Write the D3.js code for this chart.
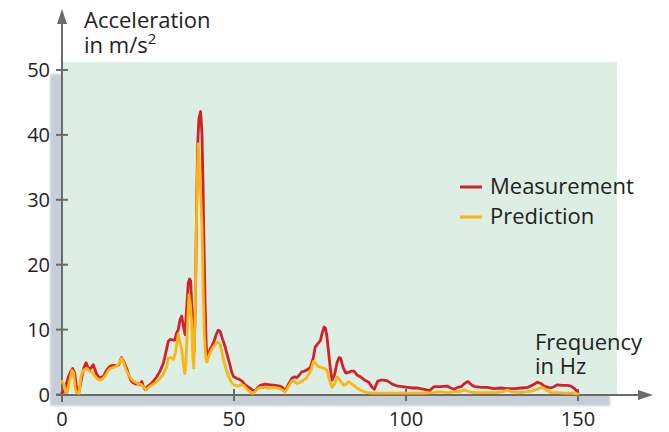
<!DOCTYPE html>
<html><head><meta charset="utf-8">
<script src="https://cdn.jsdelivr.net/npm/d3@7"></script>
<style>
html,body{margin:0;padding:0;background:#fff;}
svg{display:block;font-family:"Open Sans","Noto Sans",sans-serif;}
</style></head>
<body><svg id="c" width="669" height="432"></svg>
<script>
const measFreq = [0,0.6,1.2,1.8,2.5,3.1,3.7,4.1,4.5,5.0,5.8,6.4,7.0,7.5,8.1,8.6,9.1,9.6,10.1,10.8,11.5,12.1,12.8,13.5,14.2,15.0,15.7,16.5,17.3,18.0,18.8,19.4,20.0,20.7,21.5,22.1,22.7,23.2,23.6,24.1,24.8,25.6,26.5,27.5,28.5,29.5,30.2,30.9,31.5,32.2,32.8,33.3,33.8,34.3,34.8,35.3,35.8,36.2,36.7,37.1,37.4,37.7,38.0,38.4,38.8,39.1,39.4,39.8,40.3,40.7,41.0,41.3,41.6,41.9,42.2,42.6,43.0,43.6,44.2,44.8,45.4,46.0,46.7,47.4,48.1,48.8,49.3,49.8,50.7,51.7,52.5,53.2,54.0,54.6,55.3,56.1,56.8,57.6,59,60.5,62,63.4,64.2,64.9,65.8,66.8,67.5,68.3,69,69.7,70.5,71.3,72.2,73.0,73.6,74.3,75.1,75.6,76.2,76.6,77.0,77.5,78.0,78.5,79.2,80.0,80.6,81.0,81.7,82.5,83.3,84.0,84.9,85.8,86.8,88.0,89.2,90.0,90.8,91.7,92.5,93.5,94.6,96.0,97.5,99.0,100.4,102,103.5,105.3,106.8,108.2,110,112,113,114,115,116,117,118,119,120,122,123.7,125.5,127.6,129.5,131.5,133.5,135.4,137,138.2,139.2,140.2,142,143,144,145.5,147,148,149,150];
const measValues = [0.3,0.5,1.5,2.6,3.5,4.0,3.3,1.5,0.6,0.5,2.8,4.2,4.9,4.2,3.9,4.2,4.6,3.8,3.1,2.6,2.7,2.8,3.6,4.1,4.4,4.5,4.4,4.6,5.7,5.0,4.0,3.0,2.2,1.8,1.6,1.7,1.5,2.0,1.3,0.8,1.2,1.5,2.0,2.7,3.6,4.9,6.5,8.2,8.5,8.4,8.4,9.5,10.0,11.5,12.1,10.5,9.2,13,17.2,17.8,17.5,14,10.5,6.5,15,28,38,42.5,43.6,40,32,22,14,8,5.4,6.0,6.9,7.5,8.2,9.2,9.9,9.7,8.5,7.4,6.0,4.6,3.5,2.8,2.5,2.3,2.0,1.5,1.2,1.0,0.7,0.5,1.0,1.4,1.6,1.5,1.4,1.3,1.0,0.6,1.5,2.5,2.7,2.6,3.0,3.5,3.6,3.8,4.2,5.5,7.3,7.8,8.3,9.4,10.4,10.2,9.0,6.5,4.0,2.2,3.0,5.0,5.7,5.6,4.2,3.3,3.4,3.6,3.6,3.0,2.7,2.2,1.9,1.2,0.8,2.0,2.2,2.2,2.1,1.6,1.3,1.2,1.1,1.0,1.0,0.8,0.6,1.2,1.2,1.3,1.0,0.8,1.1,1.2,1.7,2.0,1.5,1.2,1.1,1.1,0.9,1.0,0.9,0.9,1.0,1.1,1.5,1.9,1.7,1.3,1.0,1.2,1.5,1.4,1.4,1.3,0.9,0.3];

const predFreq = [0,0.6,1.0,1.6,2.2,2.9,3.4,3.8,4.2,5.0,5.5,6.1,6.7,7.3,8.0,8.6,9.3,10.1,11.0,11.8,12.6,13.3,14.0,15.0,16.0,16.7,17.3,18.0,18.8,19.5,20.3,21.1,22.0,23.1,23.8,24.5,25.2,26.0,27.2,28.4,29.3,30.4,30.9,31.6,32.4,33.0,33.8,34.3,34.8,35.3,35.7,36.0,36.5,36.9,37.3,37.7,38.0,38.3,38.7,39.0,39.3,39.6,39.9,40.3,40.7,41.0,41.4,41.8,42.1,42.7,43.5,44.2,45.0,45.6,46.0,46.5,46.9,47.6,48.4,49.1,49.8,50.5,51.3,52.1,52.8,53.5,54.3,55.0,55.7,56.4,57.2,58.5,60,61.5,63.4,64.2,64.9,65.8,66.8,67.5,68.3,69.2,70.2,71.0,71.6,72.3,73.1,73.6,74.5,75.3,76.2,77.0,77.6,78.5,79.3,80.0,80.8,81.9,82.6,83.3,84.3,85.8,87,88.7,90,95,100,105,108,110,112,114,116,117,118.5,120,123,126,128,129.5,131,133,135,137,138.5,139.7,140.8,142,144,146,148,150];
const predValues = [2.0,1.5,0.5,0.4,2.0,3.7,3.3,1.0,0.3,0.2,2.8,3.6,3.9,4.0,3.6,3.5,3.0,2.5,2.2,2.4,2.9,3.6,4.0,4.2,4.4,4.9,5.6,4.8,3.6,2.9,2.3,2.0,1.7,1.5,1.1,0.7,1.1,1.4,1.8,2.4,3.0,4.2,5.6,5.7,5.4,6.5,9.3,8.0,7.0,4.5,3.2,4.5,11,15.4,14,11.0,6,4.1,12,24,33,38.6,36,31,26,17,9,5.5,5.0,6.0,6.9,7.5,8.0,8.0,7.6,6.5,5.4,4.0,2.8,2.0,1.5,1.4,1.3,1.5,1.4,1.0,0.5,0.2,0.2,0.6,1.0,1.1,1.0,1.1,0.9,0.6,0.4,1.2,2.1,2.0,1.7,1.9,2.2,2.5,3.0,3.6,5.1,4.9,4.3,4.2,4.0,3.8,2.5,1.1,1.7,2.7,2.2,1.4,1.6,2.0,1.6,1.0,0.6,0.3,0.2,0.2,0.2,0.2,0.3,0.4,0.3,0.4,0.5,0.7,0.4,0.3,0.3,0.3,0.4,0.7,0.4,0.3,0.4,0.6,0.9,1.1,0.7,0.3,0.3,0.2,0.2,0.1];

const xTicks = [0,50,100,150];
const yTicks = [0,10,20,30,40,50];
const seriesNames = ["Measurement","Prediction"];
const seriesColors = ["#d42129","#fbb514"];

const svg = d3.select("#c");
const x = d3.scaleLinear().domain([0,150]).range([62,578]);
const y = d3.scaleLinear().domain([0,50]).range([394.5,70]);

const defs = svg.append("defs");
defs.append("filter").attr("id","blur").append("feGaussianBlur").attr("stdDeviation",1.2);

// shadow + plot background
svg.append("rect").attr("x",50).attr("y",74).attr("width",560).attr("height",332)
  .attr("fill","#c6ced7").attr("filter","url(#blur)");
svg.append("rect").attr("x",62).attr("y",62).attr("width",555).attr("height",333)
  .attr("fill","#ddeee4");

const axisColor = "#6b6b6b";
// y axis
svg.append("line").attr("x1",62).attr("x2",62).attr("y1",402).attr("y2",20)
  .attr("stroke",axisColor).attr("stroke-width",2);
svg.append("path").attr("d","M62,9 L67,24 L57,24 Z").attr("fill",axisColor);
// x axis
svg.append("line").attr("x1",56).attr("x2",642).attr("y1",395).attr("y2",395)
  .attr("stroke",axisColor).attr("stroke-width",2);
svg.append("path").attr("d","M653,395 L638,390 L638,400 Z").attr("fill",axisColor);

// ticks
svg.selectAll(".yt").data(yTicks).enter().append("line")
  .attr("x1",56).attr("x2",68).attr("y1",d=>y(d)).attr("y2",d=>y(d))
  .attr("stroke",axisColor).attr("stroke-width",2);
svg.selectAll(".xt").data(xTicks.slice(1)).enter().append("line")
  .attr("x1",d=>x(d)).attr("x2",d=>x(d)).attr("y1",389).attr("y2",401)
  .attr("stroke",axisColor).attr("stroke-width",2);

const txt = "#222222";
svg.selectAll(".yl").data(yTicks).enter().append("text")
  .attr("x",50).attr("y",d=>y(d)+7).attr("text-anchor","end")
  .attr("font-size",20).attr("fill",txt).text(d=>d);
svg.selectAll(".xl").data(xTicks).enter().append("text")
  .attr("x",d=>x(d)).attr("y",426).attr("text-anchor","middle")
  .attr("font-size",20).attr("fill",txt).text(d=>d);

// axis titles
svg.append("text").attr("x",84).attr("y",28).attr("font-size",22).attr("fill",txt).text("Acceleration");
const t2 = svg.append("text").attr("x",84).attr("y",53).attr("font-size",22).attr("fill",txt);
t2.append("tspan").text("in m/s");
t2.append("tspan").attr("font-size",15).attr("dy",-9).text("2");
svg.append("text").attr("x",535).attr("y",350).attr("font-size",22).attr("fill",txt).text("Frequency");
svg.append("text").attr("x",535).attr("y",374).attr("font-size",22).attr("fill",txt).text("in Hz");

// lines
const line = d3.line().x(d=>x(d[0])).y(d=>y(d[1])).curve(d3.curveLinear);
const meas = measFreq.map((f,i)=>[f,measValues[i]]);
const pred = predFreq.map((f,i)=>[f,predValues[i]]);
[meas,pred].forEach((s,i)=>{
  svg.append("path").datum(s).attr("d",line).attr("fill","none")
    .attr("stroke",seriesColors[i]).attr("stroke-width",2.8)
    .attr("stroke-linejoin","round").attr("stroke-linecap","round");
});

// legend
seriesNames.forEach((n,i)=>{
  const yy = 187 + i*30;
  svg.append("line").attr("x1",460).attr("x2",482).attr("y1",yy).attr("y2",yy)
    .attr("stroke",seriesColors[i]).attr("stroke-width",3);
  svg.append("text").attr("x",490).attr("y",yy+7).attr("font-size",22).attr("fill",txt).text(n);
});
</script>
</body></html>
